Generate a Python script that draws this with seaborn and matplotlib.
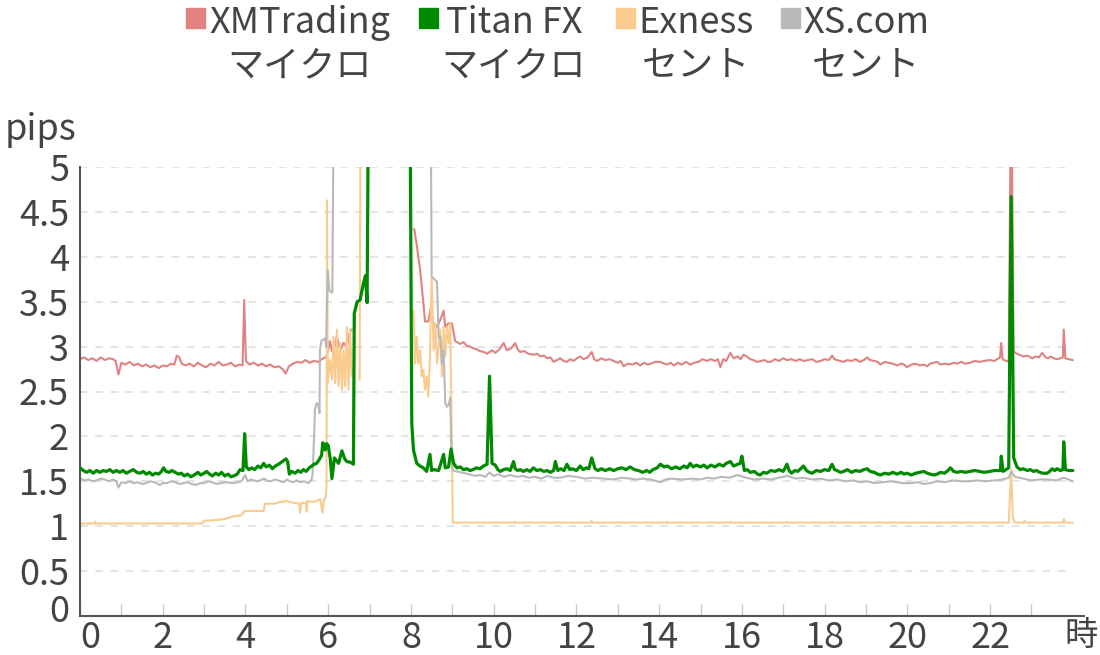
import numpy as np
import pandas as pd
import matplotlib
matplotlib.use("Agg")
import matplotlib.pyplot as plt
import matplotlib.transforms as mtransforms
import seaborn as sns
from matplotlib.patches import Rectangle

nan = np.nan

# spread per broker (hours of day, pips)
XM_HOUR = [0.0, 0.1, 0.2, 0.3, 0.4, 0.5, 0.6, 0.7, 0.8, 0.86,
           0.93, 1.0, 1.1, 1.2, 1.3, 1.4, 1.5, 1.6, 1.7, 1.8,
           1.9, 2.0, 2.1, 2.2, 2.28, 2.34, 2.4, 2.46, 2.55, 2.65,
           2.75, 2.85, 2.95, 3.05, 3.15, 3.25, 3.35, 3.45, 3.55, 3.65,
           3.75, 3.85, 3.93, 3.97, 4.01, 4.1, 4.2, 4.3, 4.4, 4.5,
           4.6, 4.7, 4.8, 4.9, 4.97, 5.05, 5.15, 5.25, 5.35, 5.45,
           5.55, 5.65, 5.75, 5.85, 5.96, 6.04, 6.09, 6.13, 6.21, 6.29,
           6.37, 6.45, 6.53, 6.57, 6.6, 8.08, 8.14, 8.22, 8.30, 8.34,
           8.42, 8.48, 8.55, 8.63, 8.71, 8.79, 8.83, 8.91, 8.99, 9.07,
           9.19, 9.27, 9.35, 9.43, 9.51, 9.59, 9.67, 9.76, 9.84, 9.9,
           9.96, 10.04, 10.14, 10.24, 10.32, 10.42, 10.52, 10.58, 10.64, 10.74,
           10.84, 10.96, 11.05, 11.13, 11.21, 11.29, 11.37, 11.45, 11.53, 11.61,
           11.69, 11.77, 11.85, 11.93, 12.01, 12.09, 12.17, 12.27, 12.37, 12.43,
           12.5, 12.6, 12.7, 12.8, 12.9, 13.0, 13.07, 13.14, 13.24, 13.35,
           13.45, 13.54, 13.64, 13.72, 13.8, 13.9, 14.03, 14.12, 14.2, 14.28,
           14.35, 14.45, 14.55, 14.65, 14.75, 14.85, 14.95, 15.05, 15.16, 15.25,
           15.35, 15.42, 15.48, 15.55, 15.62, 15.72, 15.8, 15.9, 15.97, 16.04,
           16.12, 16.2, 16.28, 16.37, 16.46, 16.55, 16.62, 16.69, 16.8, 16.9,
           17.0, 17.09, 17.2, 17.3, 17.4, 17.49, 17.6, 17.7, 17.8, 17.9,
           18.0, 18.1, 18.18, 18.24, 18.3, 18.38, 18.46, 18.55, 18.65, 18.75,
           18.85, 18.95, 19.03, 19.1, 19.2, 19.28, 19.35, 19.45, 19.55, 19.65,
           19.75, 19.85, 19.92, 19.99, 20.1, 20.2, 20.3, 20.4, 20.48, 20.55,
           20.64, 20.72, 20.8, 20.9, 21.0, 21.12, 21.2, 21.3, 21.4, 21.52,
           21.62, 21.75, 21.85, 22.0, 22.1, 22.17, 22.24, 22.27, 22.3, 22.33,
           22.4, 22.45, 22.5, 22.52, 22.57, 22.61, 22.7, 22.81, 22.9, 23.02,
           23.1, 23.18, 23.26, 23.34, 23.4, 23.46, 23.54, 23.62, 23.7, 23.76,
           23.78, 23.82, 23.9, 24.0]
XM_PIPS = [2.86, 2.88, 2.85, 2.87, 2.84, 2.88, 2.85, 2.87, 2.86, 2.84,
           2.69, 2.82, 2.80, 2.83, 2.79, 2.81, 2.78, 2.80, 2.77, 2.79,
           2.76, 2.79, 2.78, 2.81, 2.80, 2.90, 2.88, 2.81, 2.79, 2.81,
           2.78, 2.82, 2.79, 2.77, 2.81, 2.79, 2.83, 2.79, 2.80, 2.82,
           2.78, 2.80, 2.79, 3.52, 2.84, 2.80, 2.82, 2.79, 2.81, 2.78,
           2.80, 2.77, 2.78, 2.75, 2.70, 2.78, 2.81, 2.83, 2.82, 2.85,
           2.82, 2.84, 2.83, 2.86, 2.89, 3.06, 2.95, 2.96, 3.11, 2.96,
           3.04, 3.00, 3.17, 3.19, nan, 4.31, 4.13, 3.86, 3.49, 3.28,
           3.28, 3.43, 3.24, 3.22, 3.30, 3.40, 3.22, 3.26, 3.26, 3.06,
           3.03, 3.05, 3.01, 3.00, 2.98, 2.97, 2.95, 2.94, 2.92, 2.94,
           2.96, 2.93, 2.97, 3.04, 2.96, 2.98, 3.04, 2.97, 2.94, 2.95,
           2.92, 2.91, 2.92, 2.89, 2.90, 2.87, 2.88, 2.83, 2.85, 2.87,
           2.84, 2.83, 2.86, 2.84, 2.87, 2.89, 2.86, 2.88, 2.94, 2.86,
           2.84, 2.87, 2.85, 2.86, 2.84, 2.82, 2.84, 2.78, 2.81, 2.80,
           2.82, 2.79, 2.82, 2.80, 2.81, 2.83, 2.83, 2.81, 2.80, 2.82,
           2.79, 2.82, 2.80, 2.83, 2.80, 2.82, 2.83, 2.86, 2.84, 2.86,
           2.84, 2.86, 2.77, 2.86, 2.84, 2.93, 2.87, 2.89, 2.86, 2.91,
           2.89, 2.86, 2.85, 2.83, 2.84, 2.85, 2.83, 2.83, 2.86, 2.84,
           2.87, 2.85, 2.86, 2.84, 2.86, 2.84, 2.85, 2.86, 2.83, 2.84,
           2.86, 2.85, 2.90, 2.86, 2.85, 2.84, 2.83, 2.85, 2.84, 2.86,
           2.83, 2.85, 2.88, 2.85, 2.84, 2.83, 2.80, 2.83, 2.82, 2.81,
           2.79, 2.81, 2.80, 2.77, 2.80, 2.81, 2.79, 2.80, 2.78, 2.81,
           2.82, 2.83, 2.80, 2.81, 2.80, 2.82, 2.81, 2.83, 2.81, 2.82,
           2.84, 2.83, 2.84, 2.85, 2.84, 2.86, 2.88, 3.04, 2.87, 2.85,
           2.84, 2.83, 5.6, 5.6, 2.95, 2.93, 2.91, 2.89, 2.90, 2.87,
           2.89, 2.88, 2.93, 2.88, 2.87, 2.89, 2.87, 2.86, 2.87, 2.88,
           3.19, 2.87, 2.86, 2.85]

TITAN_HOUR = [0.0, 0.08, 0.16, 0.24, 0.32, 0.4, 0.48, 0.56, 0.64, 0.72,
              0.8, 0.88, 0.96, 1.04, 1.12, 1.2, 1.29, 1.37, 1.45, 1.53,
              1.6, 1.68, 1.75, 1.83, 1.9, 1.97, 2.02, 2.08, 2.15, 2.22,
              2.3, 2.38, 2.45, 2.52, 2.6, 2.68, 2.76, 2.85, 2.92, 3.0,
              3.06, 3.13, 3.2, 3.28, 3.35, 3.42, 3.5, 3.58, 3.65, 3.72,
              3.8, 3.87, 3.94, 3.98, 4.02, 4.08, 4.15, 4.22, 4.3, 4.37,
              4.44, 4.5, 4.58, 4.65, 4.72, 4.8, 4.86, 4.92, 4.98, 5.02,
              5.06, 5.12, 5.2, 5.27, 5.34, 5.4, 5.47, 5.54, 5.6, 5.66,
              5.72, 5.78, 5.84, 5.87, 5.9, 5.93, 5.96, 6.0, 6.05, 6.09,
              6.15, 6.25, 6.33, 6.4, 6.45, 6.55, 6.61, 6.63, 6.7, 6.77,
              6.85, 6.9, 6.94, 6.97, 7.98, 8.02, 8.06, 8.14, 8.22, 8.3,
              8.38, 8.46, 8.5, 8.55, 8.67, 8.79, 8.83, 8.91, 8.97, 9.03,
              9.11, 9.19, 9.27, 9.35, 9.43, 9.5, 9.58, 9.67, 9.75, 9.84,
              9.9, 9.96, 10.04, 10.1, 10.16, 10.24, 10.32, 10.4, 10.48, 10.52,
              10.58, 10.64, 10.72, 10.8, 10.88, 10.96, 11.04, 11.13, 11.21, 11.29,
              11.37, 11.45, 11.49, 11.55, 11.62, 11.7, 11.77, 11.84, 11.9, 12.0,
              12.09, 12.16, 12.24, 12.3, 12.37, 12.45, 12.52, 12.6, 12.7, 12.8,
              12.9, 13.0, 13.1, 13.2, 13.3, 13.4, 13.5, 13.6, 13.7, 13.77,
              13.85, 13.95, 14.03, 14.12, 14.2, 14.3, 14.4, 14.5, 14.6, 14.68,
              14.75, 14.82, 14.9, 15.0, 15.08, 15.16, 15.25, 15.35, 15.45, 15.55,
              15.62, 15.72, 15.8, 15.9, 15.96, 16.0, 16.06, 16.13, 16.2, 16.3,
              16.38, 16.44, 16.52, 16.6, 16.7, 16.8, 16.9, 17.0, 17.09, 17.14,
              17.2, 17.28, 17.35, 17.42, 17.49, 17.56, 17.63, 17.7, 17.8, 17.9,
              18.0, 18.1, 18.18, 18.24, 18.3, 18.38, 18.46, 18.55, 18.65, 18.75,
              18.85, 18.95, 19.03, 19.1, 19.2, 19.28, 19.35, 19.45, 19.55, 19.65,
              19.75, 19.85, 19.92, 19.99, 20.1, 20.2, 20.3, 20.4, 20.48, 20.55,
              20.64, 20.72, 20.8, 20.9, 20.98, 21.04, 21.12, 21.2, 21.3, 21.4,
              21.52, 21.62, 21.75, 21.85, 22.0, 22.1, 22.17, 22.25, 22.27, 22.31,
              22.38, 22.45, 22.51, 22.57, 22.65, 22.73, 22.8, 22.9, 22.97, 23.05,
              23.12, 23.2, 23.28, 23.38, 23.44, 23.5, 23.56, 23.62, 23.7, 23.76,
              23.78, 23.82, 23.9, 24.0]
TITAN_PIPS = [1.65, 1.62, 1.60, 1.62, 1.59, 1.62, 1.60, 1.62, 1.61, 1.63,
              1.60, 1.62, 1.60, 1.62, 1.59, 1.61, 1.63, 1.60, 1.59, 1.61,
              1.58, 1.60, 1.57, 1.59, 1.58, 1.61, 1.65, 1.61, 1.60, 1.62,
              1.60, 1.58, 1.59, 1.56, 1.58, 1.55, 1.57, 1.60, 1.57, 1.59,
              1.61, 1.58, 1.56, 1.59, 1.57, 1.60, 1.56, 1.58, 1.55, 1.56,
              1.58, 1.63, 1.62, 2.03, 1.66, 1.63, 1.65, 1.63, 1.67, 1.65,
              1.70, 1.66, 1.68, 1.64, 1.67, 1.69, 1.71, 1.73, 1.75, 1.72,
              1.58, 1.61, 1.59, 1.62, 1.60, 1.63, 1.61, 1.65, 1.67, 1.69,
              1.70, 1.74, 1.79, 1.93, 1.86, 1.85, 1.92, 1.90, 1.75, 1.53,
              1.76, 1.70, 1.84, 1.75, 1.72, 1.71, 1.69, 3.37, 3.50, 3.52,
              3.70, 3.79, 3.49, 5.6, 5.6, 2.15, 1.85, 1.70, 1.67, 1.65,
              1.61, 1.80, 1.62, 1.63, 1.62, 1.80, 1.65, 1.66, 1.86, 1.70,
              1.65, 1.66, 1.63, 1.64, 1.62, 1.63, 1.65, 1.64, 1.67, 1.69,
              2.67, 1.70, 1.68, 1.63, 1.61, 1.63, 1.64, 1.62, 1.72, 1.64,
              1.62, 1.63, 1.61, 1.63, 1.61, 1.65, 1.62, 1.63, 1.61, 1.62,
              1.60, 1.62, 1.72, 1.62, 1.64, 1.62, 1.69, 1.63, 1.64, 1.62,
              1.67, 1.63, 1.65, 1.64, 1.76, 1.64, 1.62, 1.64, 1.62, 1.64,
              1.62, 1.64, 1.65, 1.63, 1.66, 1.63, 1.62, 1.60, 1.62, 1.60,
              1.63, 1.65, 1.69, 1.66, 1.67, 1.64, 1.66, 1.64, 1.67, 1.65,
              1.70, 1.66, 1.68, 1.66, 1.68, 1.65, 1.68, 1.66, 1.69, 1.67,
              1.70, 1.72, 1.67, 1.69, 1.70, 1.78, 1.62, 1.63, 1.60, 1.61,
              1.58, 1.57, 1.60, 1.59, 1.62, 1.61, 1.63, 1.61, 1.69, 1.62,
              1.59, 1.62, 1.61, 1.64, 1.67, 1.62, 1.60, 1.59, 1.62, 1.61,
              1.63, 1.62, 1.69, 1.63, 1.62, 1.60, 1.61, 1.63, 1.60, 1.62,
              1.61, 1.63, 1.64, 1.61, 1.60, 1.58, 1.57, 1.59, 1.58, 1.60,
              1.58, 1.60, 1.58, 1.59, 1.57, 1.59, 1.60, 1.61, 1.59, 1.58,
              1.57, 1.58, 1.60, 1.59, 1.62, 1.65, 1.61, 1.60, 1.61, 1.60,
              1.61, 1.62, 1.61, 1.60, 1.61, 1.62, 1.62, 1.62, 1.78, 1.61,
              1.63, 1.65, 4.67, 1.76, 1.66, 1.63, 1.64, 1.62, 1.63, 1.61,
              1.62, 1.60, 1.59, 1.59, 1.61, 1.64, 1.62, 1.64, 1.62, 1.63,
              1.94, 1.63, 1.62, 1.62]

EXNESS_HOUR = [0.0, 0.34, 0.36, 0.38, 2.95, 3.0, 3.35, 3.5, 3.71, 3.9,
               3.98, 4.44, 4.47, 4.7, 4.84, 5.0, 5.16, 5.3, 5.32, 5.35,
               5.46, 5.48, 5.5, 5.65, 5.81, 5.86, 5.9, 5.94, 5.96, 5.97,
               5.99, 6.04, 6.09, 6.13, 6.17, 6.21, 6.25, 6.29, 6.33, 6.37,
               6.41, 6.45, 6.49, 6.53, 6.57, 6.62, 6.76, 6.78, 6.8, 8.06,
               8.10, 8.14, 8.18, 8.22, 8.26, 8.30, 8.34, 8.38, 8.42, 8.46,
               8.50, 8.55, 8.59, 8.63, 8.71, 8.75, 8.79, 8.83, 8.87, 8.91,
               8.95, 8.96, 8.99, 9.01, 10.48, 10.5, 10.52, 12.35, 12.37, 12.39,
               14.18, 14.2, 14.22, 15.7, 15.72, 15.74, 17.07, 17.09, 17.11, 18.16,
               18.18, 18.2, 22.45, 22.51, 22.55, 22.6, 22.81, 22.83, 22.86, 23.76,
               23.78, 23.82, 24.0]
EXNESS_PIPS = [1.03, 1.03, 1.05, 1.03, 1.03, 1.06, 1.07, 1.08, 1.11, 1.12,
               1.17, 1.17, 1.25, 1.25, 1.27, 1.28, 1.26, 1.25, 1.15, 1.26,
               1.26, 1.16, 1.28, 1.27, 1.30, 1.15, 1.30, 1.32, 1.46, 4.63,
               2.59, 2.85, 2.63, 3.11, 2.59, 3.19, 2.56, 3.04, 2.52, 2.96,
               2.56, 3.22, 2.52, 3.19, 2.67, nan, 2.63, 5.6, nan, 3.41,
               2.81, 3.11, 2.81, 2.96, 2.67, 2.74, 2.52, 2.67, 2.44, 2.93,
               3.78, 2.96, 3.26, 2.81, 3.19, 2.67, 3.22, 2.89, 3.22, 3.04,
               3.26, 2.89, 1.89, 1.04, 1.04, 1.05, 1.04, 1.04, 1.06, 1.04,
               1.04, 1.05, 1.04, 1.04, 1.05, 1.04, 1.04, 1.05, 1.04, 1.04,
               1.05, 1.04, 1.04, 1.63, 1.10, 1.04, 1.04, 1.06, 1.04, 1.04,
               1.08, 1.04, 1.04]

XS_HOUR = [0.0, 0.1, 0.2, 0.3, 0.4, 0.5, 0.6, 0.7, 0.8, 0.88,
           0.93, 1.0, 1.1, 1.2, 1.3, 1.4, 1.5, 1.6, 1.7, 1.8,
           1.93, 2.0, 2.1, 2.2, 2.3, 2.4, 2.5, 2.6, 2.7, 2.82,
           2.9, 3.0, 3.1, 3.2, 3.3, 3.4, 3.55, 3.71, 3.8, 3.9,
           3.99, 4.05, 4.12, 4.2, 4.3, 4.45, 4.52, 4.6, 4.72, 4.85,
           4.93, 5.0, 5.08, 5.15, 5.24, 5.32, 5.42, 5.52, 5.6, 5.62,
           5.64, 5.68, 5.72, 5.76, 5.79, 5.8, 5.84, 5.92, 5.95, 5.99,
           6.03, 6.1, 6.13, 8.48, 8.5, 8.63, 8.67, 8.71, 8.75, 8.79,
           8.83, 8.87, 8.91, 8.95, 8.98, 9.02, 9.2, 9.4, 9.55, 9.67,
           9.8, 9.9, 10.0, 10.1, 10.25, 10.4, 10.55, 10.7, 10.85, 11.0,
           11.15, 11.3, 11.45, 11.6, 11.8, 12.0, 12.2, 12.4, 12.65, 12.9,
           13.1, 13.3, 13.45, 13.6, 13.8, 14.03, 14.15, 14.3, 14.55, 14.8,
           15.0, 15.16, 15.33, 15.5, 15.7, 15.9, 16.1, 16.3, 16.5, 16.7,
           16.9, 17.1, 17.3, 17.5, 17.7, 17.9, 18.1, 18.3, 18.5, 18.7,
           18.85, 19.03, 19.2, 19.4, 19.6, 19.75, 19.9, 20.1, 20.25, 20.4,
           20.55, 20.72, 20.9, 21.1, 21.3, 21.5, 21.7, 21.9, 22.1, 22.3,
           22.45, 22.51, 22.6, 22.8, 23.0, 23.2, 23.4, 23.6, 23.78, 24.0]
XS_PIPS = [1.53, 1.51, 1.52, 1.50, 1.51, 1.53, 1.52, 1.50, 1.52, 1.50,
           1.43, 1.49, 1.48, 1.50, 1.48, 1.49, 1.47, 1.48, 1.50, 1.49,
           1.46, 1.48, 1.48, 1.50, 1.49, 1.47, 1.48, 1.49, 1.47, 1.46,
           1.48, 1.48, 1.50, 1.49, 1.47, 1.48, 1.49, 1.48, 1.49, 1.50,
           1.57, 1.50, 1.52, 1.51, 1.50, 1.53, 1.51, 1.50, 1.52, 1.50,
           1.49, 1.52, 1.50, 1.49, 1.51, 1.49, 1.50, 1.48, 1.52, 1.57,
           1.76, 2.30, 2.37, 2.36, 2.26, 2.96, 3.07, 3.09, 3.00, 3.85,
           3.62, 3.60, 5.6, 5.6, 3.78, 3.72, 3.10, 3.11, 2.81, 2.96,
           2.37, 2.33, 2.35, 2.43, 1.75, 1.62, 1.60, 1.58, 1.56, 1.57,
           1.55, 1.60, 1.56, 1.58, 1.55, 1.57, 1.55, 1.56, 1.54, 1.55,
           1.53, 1.56, 1.54, 1.54, 1.56, 1.55, 1.53, 1.54, 1.53, 1.52,
           1.54, 1.53, 1.52, 1.53, 1.52, 1.49, 1.52, 1.53, 1.52, 1.53,
           1.52, 1.54, 1.53, 1.55, 1.54, 1.57, 1.54, 1.52, 1.53, 1.52,
           1.54, 1.56, 1.53, 1.54, 1.52, 1.53, 1.51, 1.52, 1.50, 1.51,
           1.49, 1.50, 1.48, 1.49, 1.50, 1.49, 1.48, 1.48, 1.49, 1.47,
           1.48, 1.50, 1.49, 1.51, 1.50, 1.50, 1.51, 1.50, 1.51, 1.52,
           1.54, 1.61, 1.55, 1.53, 1.51, 1.52, 1.52, 1.51, 1.54, 1.50]

BROKERS = ["XMTrading\nマイクロ", "Titan FX\nマイクロ", "Exness\nセント", "XS.com\nセント"]
COLORS = ["#e08282", "#008a00", "#f9cb8f", "#b9b9b9"]
Y_TICKS = [0, 0.5, 1, 1.5, 2, 2.5, 3, 3.5, 4, 4.5, 5]

TEXT = "#444444"
FONT = ["Noto Sans CJK JP", "DejaVu Sans"]


def frame(name, hours, pips):
    assert len(hours) == len(pips), name
    d = pd.DataFrame({"hour": hours, "pips": pips})
    d["seg"] = d["pips"].isna().cumsum()
    d = d.dropna()
    d["broker"] = name
    return d


def main():
    sns.set_style("white")
    plt.rcParams["font.family"] = FONT

    frames = [frame(BROKERS[0], XM_HOUR, XM_PIPS),
              frame(BROKERS[1], TITAN_HOUR, TITAN_PIPS),
              frame(BROKERS[2], EXNESS_HOUR, EXNESS_PIPS),
              frame(BROKERS[3], XS_HOUR, XS_PIPS)]

    W, H = 1100, 655
    fig = plt.figure(figsize=(11, 6.55), dpi=100)
    # axes: x 0..24.27 hours from px 80 to 1084, y 0..5 from px 616 to 167
    ax = fig.add_axes([80 / W, 1 - 616 / H, 1004 / W, (616 - 167) / H])

    ax.hlines(Y_TICKS[1:], 0, 24, colors="#dddddd", linewidth=1.1,
              linestyles=(0, (5, 5)), zorder=0)

    widths = [1.5, 2.3, 1.5, 1.5]
    for i in [0, 2, 3, 1]:
        sns.lineplot(data=frames[i], x="hour", y="pips", units="seg",
                     estimator=None, sort=False, color=COLORS[i],
                     linewidth=widths[i], ax=ax, legend=False, zorder=2 + (i == 1))

    ax.set_xlim(0, 24.27)
    ax.set_ylim(0, 5)
    ax.set_xlabel("")
    ax.set_ylabel("")

    ax.set_xticks(range(24))
    ax.set_xticklabels([str(h) if h % 2 == 0 else "" for h in range(24)])
    ax.tick_params(axis="x", direction="in", length=8.5, width=1, color="#c8c8c8",
                   pad=3, labelsize=26, labelcolor=TEXT, bottom=True)
    ax.get_xticklabels()[0].set_ha("left")

    ax.set_yticks(Y_TICKS)
    ax.set_yticklabels([f"{v:g}" for v in Y_TICKS])
    ax.tick_params(axis="y", length=0, pad=8, labelsize=26, labelcolor=TEXT)
    zero = ax.get_yticklabels()[0]
    zero.set_transform(zero.get_transform() +
                       mtransforms.ScaledTranslation(0, 8 / 100, fig.dpi_scale_trans))

    for s in ["top", "right"]:
        ax.spines[s].set_visible(False)
    for s in ["left", "bottom"]:
        ax.spines[s].set_color("#555555")
        ax.spines[s].set_linewidth(1.5)

    fig.text(5 / W, 1 - 140 / H, "pips", fontsize=26, color=TEXT, va="baseline")
    fig.text(1081 / W, 1 - 636 / H, "時", fontsize=24, color=TEXT,
             ha="center", va="center")

    # legend: square + two-line label
    sq_x = [186, 419, 616, 781]
    txt_x = [300, 514, 696, 866]
    for i, name in enumerate(BROKERS):
        fig.add_artist(Rectangle((sq_x[i] / W, 1 - 28 / H), 19 / W, 20 / H,
                                 transform=fig.transFigure, color=COLORS[i]))
        fig.text(txt_x[i] / W, 1 - 5 / H, name, fontsize=26, color=TEXT,
                 ha="center", va="top", multialignment="center", linespacing=1.25)

    fig.savefig("out.png", dpi=100)


if __name__ == "__main__":
    main()
